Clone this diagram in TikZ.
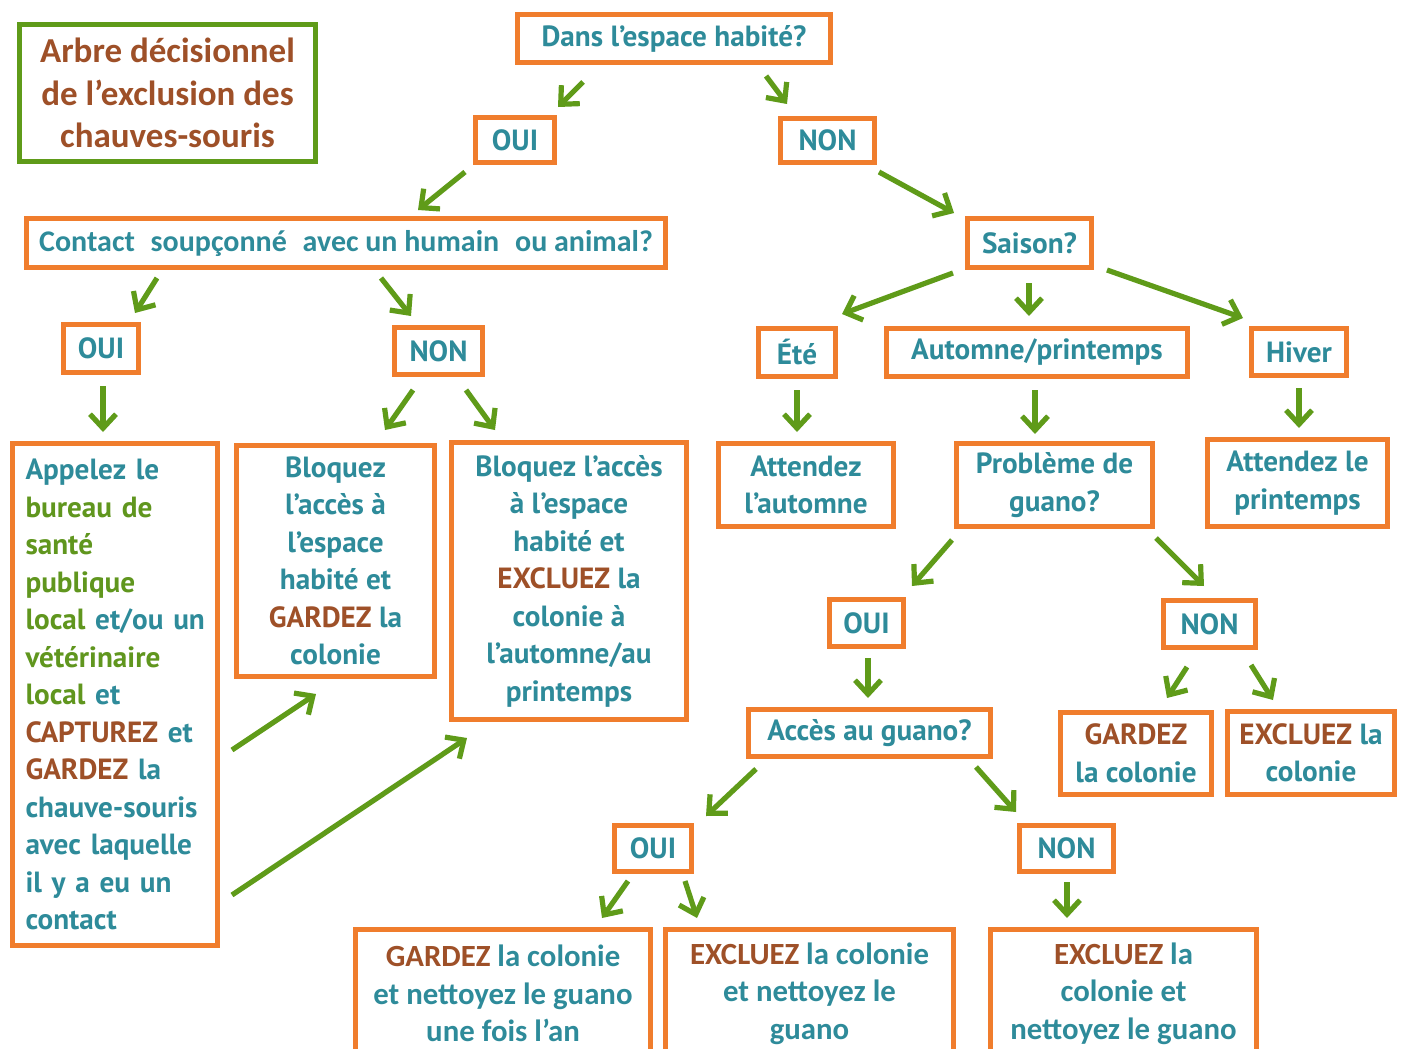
\documentclass[tikz,border=0pt]{standalone}
\usepackage{fontspec}
\usetikzlibrary{arrows.meta}
\newfontfamily\tahf{PT Sans}
\newfontfamily\calf{Carlito}
\definecolor{tealc}{RGB}{46,139,154}
\definecolor{brwn}{RGB}{158,80,40}
\definecolor{grnt}{RGB}{96,150,30}
\definecolor{orng}{RGB}{240,125,45}
\definecolor{grna}{RGB}{95,155,25}
\newcommand\tah{\tahf\bfseries\fontsize{14.6pt}{18.75pt}\selectfont}
\newcommand\calb{\calf\bfseries\fontsize{15.4pt}{18.75pt}\selectfont}
\newcommand\brn[1]{\textcolor{brwn}{#1}}
\newcommand\grn[1]{\textcolor{grnt}{#1}}
\newcommand\conn[6]{\draw[arrowline] ([shift={(#2,#3)}]#1.center) -- ([shift={(#5,#6)}]#4.center);}
\tikzset{
  box/.style={draw=orng, line width=2.5pt, inner sep=1pt, text=tealc, font=\tah, align=center},
  arrowline/.style={draw=grna, line width=2.6pt, -{Straight Barb[length=7pt,width=13pt]}},
}
\begin{document}
\begin{tikzpicture}[x=0.5pt,y=-0.5pt]
\useasboundingbox (0,0) rectangle (1405,1049);
\fill[white] (0,0) rectangle (1405,1049);
\clip (0,0) rectangle (1405,1049);
% title
\node[box, draw=grna, text=brwn, font={\calf\bfseries\fontsize{17.5pt}{21.25pt}\selectfont}, minimum width=148pt, minimum height=68.5pt] (title) at (167.5,93) {Arbre décisionnel\\de l’exclusion des\\chauves-souris};
% level 1
\node[box, minimum width=156.5pt, minimum height=24pt] (dans) at (674,38.5) {Dans l’espace habité?};
\node[box, minimum width=39.5pt, minimum height=22.5pt] (oui1) at (515,140) {OUI};
\node[box, minimum width=47pt, minimum height=22pt] (non1) at (827.5,140.5) {NON};
\node[box, font={\calf\bfseries\fontsize{15pt}{18.75pt}\selectfont}, minimum width=319.5pt, minimum height=24.5pt] (contact) at (346,243) {Contact\hspace{0.3em} soupçonné\hspace{0.3em} avec un humain\hspace{0.3em} ou animal?};
\node[box, minimum width=62pt, minimum height=24.5pt] (saison) at (1029.5,243) {Saison?};
\node[box, minimum width=37.5pt, minimum height=24pt] (oui2) at (101,348.5) {OUI};
\node[box, minimum width=44pt, minimum height=23.5pt] (non2) at (438.5,351) {NON};
\node[box, minimum width=38.5pt, minimum height=24pt] (ete) at (797,352.5) {Été};
\node[box, minimum width=150.5pt, minimum height=24pt] (automne) at (1037,352.5) {Automne/printemps};
\node[box, minimum width=47.5pt, minimum height=23.5pt] (hiver) at (1299,352) {Hiver};
% action boxes
\node[box, align=left, inner xsep=6.5pt, text width=89.5pt, minimum width=102.5pt, minimum height=251pt] (appelez) at (115,694.5)
 {Appelez le\\\grn{bureau de}\\\grn{santé}\\\grn{publique}\\\mbox{\grn{local} et/ou un}\\\grn{vétérinaire}\\\grn{local} et\\\brn{CAPTUREZ} et\\\brn{GARDEZ} la\\chauve-souris\\\mbox{avec laquelle}\\il y a eu un\\contact};
\node[box, minimum width=99pt, minimum height=115.5pt] (bloq1) at (335.5,561)
 {Bloquez\\l’accès à\\l’espace\\habité et\\\brn{GARDEZ} la\\colonie};
\node[box, minimum width=117.5pt, minimum height=138.5pt] (bloq2) at (569,581)
 {Bloquez l’accès\\à l’espace\\habité et\\\brn{EXCLUEZ} la\\colonie à\\l’automne/au\\printemps};
\node[box, minimum width=87.5pt, minimum height=41.5pt] (attA) at (806,485) {Attendez\\l’automne};
\node[box, minimum width=98pt, minimum height=41.5pt] (prob) at (1054.5,485) {Problème de\\guano?};
\node[box, minimum width=90pt, minimum height=43.5pt] (attP) at (1297.5,483) {Attendez le\\printemps};
\node[box, minimum width=37pt, minimum height=23.5pt] (oui3) at (866.5,623) {OUI};
\node[box, minimum width=46pt, minimum height=23.5pt] (non3) at (1209.5,624) {NON};
\node[box, minimum width=121pt, minimum height=23.5pt] (acces) at (869.5,733) {Accès au guano?};
\node[box, minimum width=75.5pt, minimum height=41pt] (gard2) at (1136,753.5) {\brn{GARDEZ}\\la colonie};
\node[box, minimum width=83.5pt, minimum height=41.5pt] (excl2) at (1311,753) {\brn{EXCLUEZ} la\\colonie};
\node[box, minimum width=38.5pt, minimum height=23pt] (oui4) at (653,848.5) {OUI};
\node[box, minimum width=47pt, minimum height=23pt] (non4) at (1066.5,848.5) {NON};
\node[box, font=\calb, minimum width=147.5pt, minimum height=64pt] (gard3) at (503,993.5) {\brn{GARDEZ} la colonie\\et nettoyez le guano\\une fois l’an};
\node[box, font=\calb, minimum width=144pt, minimum height=64pt] (excl3) at (809.5,993.5) {\brn{EXCLUEZ} la colonie\\et nettoyez le\\guano};
\node[box, font=\calb, minimum width=133pt, minimum height=64pt] (excl4) at (1123.5,993.5) {\brn{EXCLUEZ} la\\colonie et\\nettoyez le guano};
% connectors
\conn{dans}{-91}{43.5}{oui1}{43}{-33}
\conn{dans}{92}{37.5}{non1}{-40.5}{-36.5}
\conn{oui1}{-50}{32}{contact}{72}{-33}
\conn{non1}{51.5}{31.5}{saison}{-75.5}{-30}
\conn{contact}{-189}{35}{oui2}{34}{-35.5}
\conn{contact}{35}{35}{non2}{-27.5}{-35}
\conn{saison}{-76.5}{30}{ete}{45}{-38.5}
\conn{saison}{-0.5}{40}{automne}{-8}{-36.5}
\conn{saison}{77.5}{27}{hiver}{-56}{-34}
\conn{oui2}{2}{37.5}{appelez}{-12}{-262.5}
\conn{non2}{-25.5}{39}{bloq1}{49.5}{-131}
\conn{non2}{27.5}{39}{bloq2}{-74}{-151}
\conn{ete}{0}{37.5}{attA}{-9}{-53}
\conn{automne}{-2}{37.5}{prob}{-19.5}{-51}
\conn{hiver}{0}{36}{attP}{1.5}{-55}
\conn{appelez}{117}{55.5}{bloq1}{-19.5}{133}
\conn{appelez}{117}{200.5}{bloq2}{-102}{157}
\conn{prob}{-102.5}{55}{oui3}{45.5}{-37}
\conn{prob}{101.5}{53}{non3}{-5.5}{-38}
\conn{oui3}{1.5}{35}{acces}{-1.5}{-35}
\conn{non3}{-22.5}{43}{gard2}{31}{-55.5}
\conn{non3}{41.5}{41}{excl2}{-38}{-53}
\conn{acces}{-113.5}{36}{oui4}{53}{-32.5}
\conn{acces}{106.5}{34}{non4}{-50.5}{-36.5}
\conn{oui4}{-25}{32.5}{gard3}{99}{-75.5}
\conn{oui4}{32}{32.5}{excl3}{-112.5}{-75.5}
\conn{non4}{0.5}{33.5}{excl4}{-56.5}{-75.5}
\end{tikzpicture}
\end{document}
